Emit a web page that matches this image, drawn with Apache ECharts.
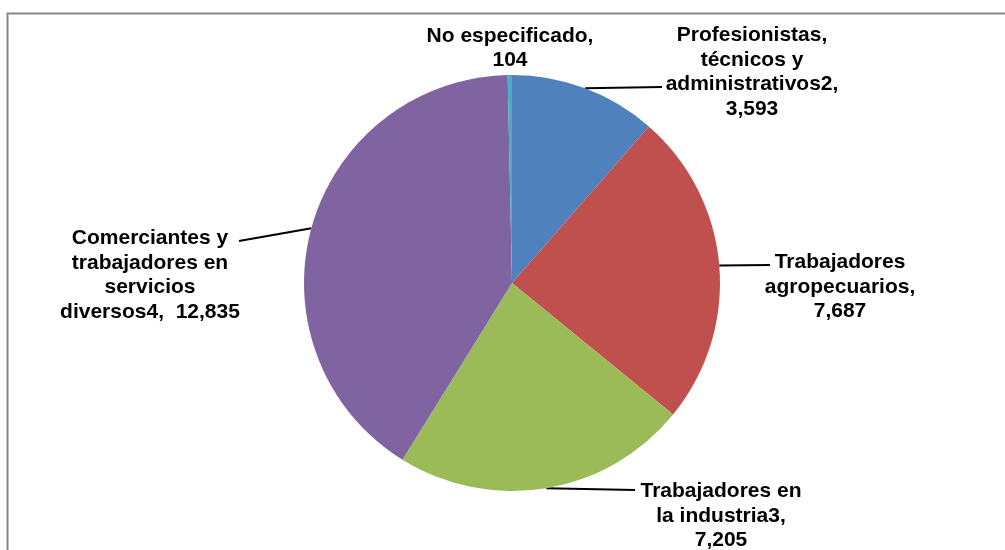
<!DOCTYPE html>
<html>
<head>
<meta charset="utf-8">
<script src="https://cdn.jsdelivr.net/npm/echarts@6/dist/echarts.min.js"></script>
<style>
  html, body { margin: 0; padding: 0; background: #fff; }
  #chart { width: 1005px; height: 550px; }
</style>
</head>
<body>
<div id="chart"></div>
<script>
// datos
const categories = [
  'Profesionistas, técnicos y administrativos2',
  'Trabajadores agropecuarios',
  'Trabajadores en la industria3',
  'Comerciantes y trabajadores en servicios diversos4',
  'No especificado'
]
const values = [3593, 7687, 7205, 12835, 104]
// nombres con saltos de línea como en la etiqueta original
const wrappedNames = [
  'Profesionistas,\ntécnicos y\nadministrativos2',
  'Trabajadores\nagropecuarios',
  'Trabajadores en\nla industria3',
  'Comerciantes y\ntrabajadores en\nservicios\ndiversos4',
  'No especificado'
]
const valueSeparators = ['\n', '\n', '\n', '  ', '\n']
const colors = ['#4F81BD', '#C0504D', '#9BBB59', '#8064A2', '#4BACC6']

// posición de cada etiqueta (centro del bloque) y final de la línea guía
const labelPos = [
  { x: 752, y: 72, end: [662, 87] },
  { x: 840, y: 287, end: [770, 265] },
  { x: 721, y: 516, end: [635, 490] },
  { x: 150, y: 275, end: [239, 241] },
  { x: 510, y: 48, end: null }
]

const chart = echarts.init(document.getElementById('chart'))

const option = {
  animation: false,
  graphic: [
    {
      type: 'rect',
      left: 5,
      top: 11,
      shape: { width: 1020, height: 560 },
      style: { fill: 'none', stroke: '#878787', lineWidth: 2 },
      silent: true
    }
  ],
  series: [
    {
      type: 'pie',
      center: [512, 283],
      radius: 208,
      startAngle: 90,
      clockwise: true,
      avoidLabelOverlap: false,
      itemStyle: { borderWidth: 0 },
      label: {
        show: true,
        position: 'outside',
        fontFamily: '"Liberation Sans", Arial, sans-serif',
        fontWeight: 'bold',
        fontSize: 21,
        lineHeight: 24.5,
        color: '#000',
        align: 'center',
        formatter: function (p) {
          const i = p.dataIndex
          return wrappedNames[i] + ',' + valueSeparators[i] + p.value.toLocaleString('en-US')
        }
      },
      labelLine: {
        show: true,
        lineStyle: { color: '#000', width: 2 }
      },
      labelLayout: function (params) {
        const pos = labelPos[params.dataIndex]
        const out = {
          x: pos.x,
          y: pos.y,
          align: 'center',
          verticalAlign: 'middle'
        }
        if (pos.end && params.labelLinePoints) {
          out.labelLinePoints = [params.labelLinePoints[0], pos.end, pos.end]
        }
        return out
      },
      data: categories.map((name, i) => ({
        name: name,
        value: values[i],
        itemStyle: { color: colors[i] },
        labelLine: { show: labelPos[i].end !== null }
      }))
    }
  ]
}

chart.setOption(option)
</script>
</body>
</html>
